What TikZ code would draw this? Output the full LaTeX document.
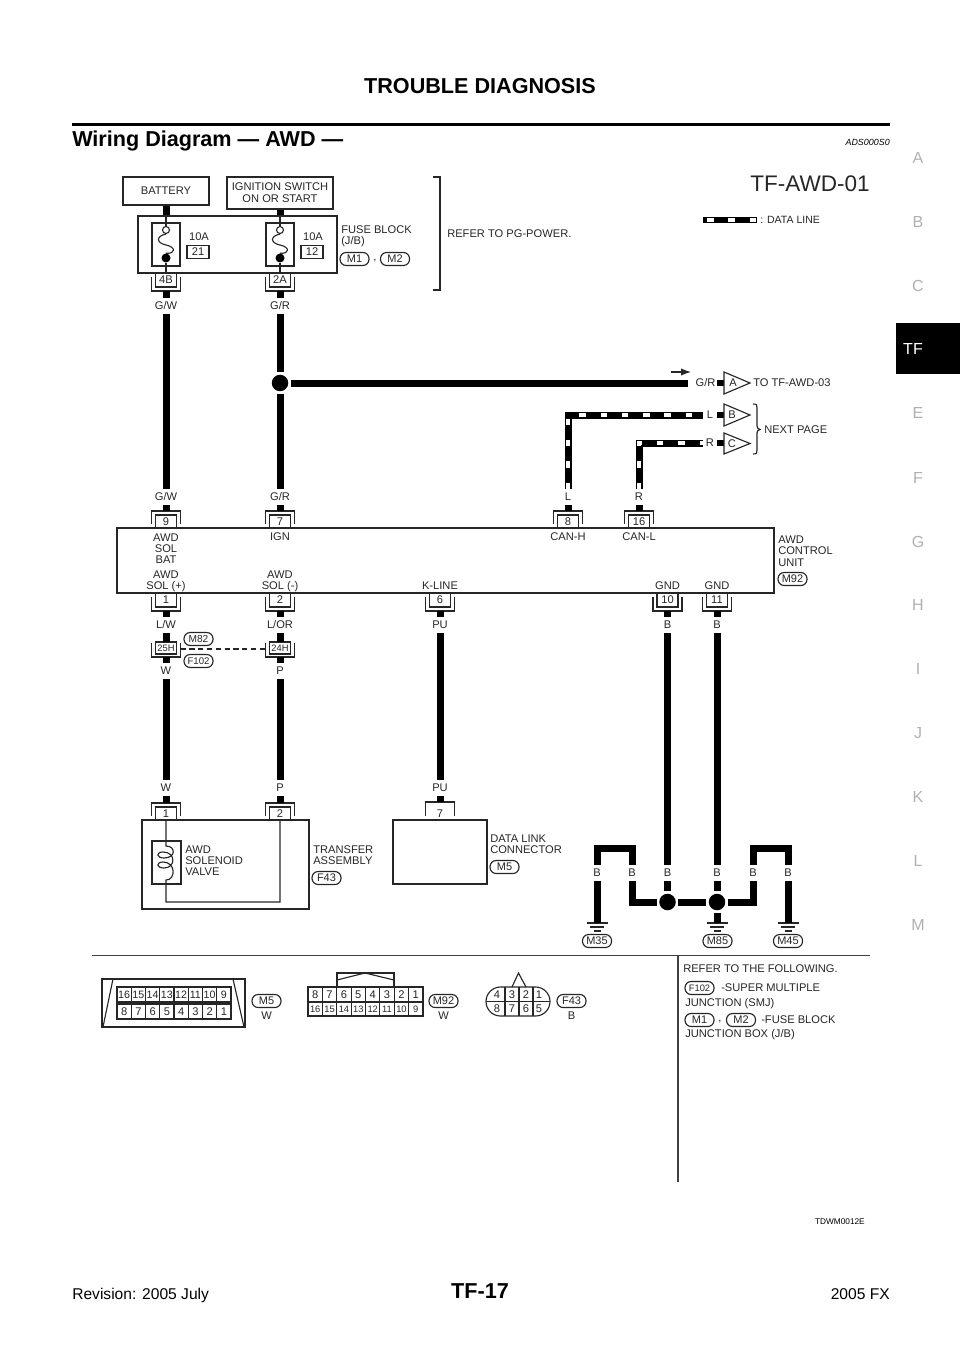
\documentclass[tikz,border=0pt]{standalone}
\usepackage{fontspec}
\setmainfont{Liberation Sans}
\usetikzlibrary{arrows.meta}
\newlength\pxu \setlength\pxu{0.75pt}
\newcommand\fs[1]{\fontsize{#1}{#1}\selectfont}
\definecolor{ink}{HTML}{262626}
\definecolor{sidegray}{HTML}{B0B0B0}
\tikzset{
  wire/.style={line width=5.25pt,black},
  thinl/.style={line width=0.85pt,ink},
  boxn/.style={draw=ink,line width=0.85pt,inner sep=0pt,align=center,font=\fs{8.35pt},text=ink},
  txt/.style={inner sep=0pt,font=\fs{8.35pt},text=ink},
  mline/.style={inner sep=0pt,font=\fs{8.35pt},text=ink,align=left,anchor=west},
  cline/.style={inner sep=0pt,font=\fs{8.35pt},text=ink,align=center},
  lab/.style={inner sep=0pt,font=\fs{8.35pt},text=ink,minimum height=15\pxu,text height=5.9pt,text depth=0pt},
  num/.style={inner sep=0pt,font=\fs{8.35pt},text=ink,text height=5.9pt,text depth=0pt},
  oval/.style={draw=ink,line width=0.85pt,rounded corners=4.6pt,inner sep=0pt,minimum width=29\pxu,minimum height=13\pxu,font=\fs{8.25pt},text=ink,text height=5.9pt,text depth=0pt},
  dot/.style={circle,fill=black,inner sep=0pt,minimum size=16.5\pxu,outer sep=2.5\pxu},
  whitedash/.style={line width=3.7pt,white,dash pattern=on 4.875pt off 11.1pt},
  side/.style={inner sep=0pt,font=\fs{12pt},text=sidegray},
}
\newcommand\pintop[4]{\begin{scope}[shift={(#2,#3)}]
  \draw[thinl] (-14.5,-4) -- (-14.5,-17) -- (14.5,-17) -- (14.5,-4);
  \draw[thinl] (-10.5,0) -- (-10.5,-13) -- (10.5,-13) -- (10.5,0);
  \node[num] (#1) at (0,-6.5) {#4};
  \coordinate (#1-out) at (0,-17);
\end{scope}}
\newcommand\pinbot[4]{\begin{scope}[shift={(#2,#3)}]
  \draw[thinl] (-14.5,4) -- (-14.5,18) -- (14.5,18) -- (14.5,4);
  \draw[thinl] (-10.5,0) -- (-10.5,14) -- (10.5,14) -- (10.5,0);
  \node[num] (#1) at (0,7) {#4};
  \coordinate (#1-out) at (0,18);
\end{scope}}
\newcommand\pinmid[3]{\begin{scope}[shift={(#2,648)}]
  \draw[thinl] (-14.5,-5) -- (-14.5,9) -- (14.5,9) -- (14.5,-5);
  \node[boxn,minimum width=21\pxu,minimum height=12\pxu,font=\fs{7pt},text height=5pt,text depth=0pt] (#1) at (0,0) {#3};
  \coordinate (#1-in) at (0,-6);
  \coordinate (#1-out) at (0,9);
  \coordinate (#1-e) at (14.5,1);
  \coordinate (#1-w) at (-14.5,1);
\end{scope}}
\newcommand\fuse[5]{\begin{scope}[shift={(#2,0)}]
  \draw[thinl] (-14,223) rectangle (14,266);
  \node[circle,draw=ink,fill=white,line width=0.85pt,inner sep=0pt,minimum size=7\pxu] (#1o) at (0,230) {};
  \node[circle,fill=black,inner sep=0pt,minimum size=9\pxu] (#1f) at (0,258) {};
  \draw[thinl] (0,216) -- (#1o.north);
  \draw[thinl] (#1o.south) .. controls (-10,236) and (-10,243) .. (0,245) .. controls (10,247) and (10,254) .. (#1f.north);
  \draw[thinl] (#1f.south) -- (0,273);
  \node[num] (#1a) at (33,237) {#3};
  \node[boxn,minimum width=22\pxu,minimum height=13\pxu,text height=5.9pt,text depth=0pt] (#1b) at (32,252) {#4};
\end{scope}}
\newcommand\gnd[2]{\coordinate (#1) at (#2,923);
  \draw[thinl,line width=1.1pt] (#2-10.5,923) -- (#2+10.5,923);
  \draw[thinl,line width=1.1pt] (#2-7,927) -- (#2+7,927);
  \draw[thinl,line width=1.1pt] (#2-3.5,931) -- (#2+3.5,931);}
\begin{document}
\begin{tikzpicture}[x=0.75pt,y=-0.75pt]
\useasboundingbox (0,0) rectangle (960,1358);
% page furniture
\node[inner sep=0pt,font=\fs{16.2pt}\bfseries] (title) at (480,86) {TROUBLE DIAGNOSIS};
\draw[line width=1.9pt] (72,124.5) -- (890,124.5);
\node[inner sep=0pt,anchor=base west,font=\fs{16.2pt}\bfseries] (sect) at (72,147) {Wiring Diagram — AWD —};
\node[inner sep=0pt,anchor=base east,font=\fs{6.7pt}\itshape] (ads) at (890,146) {ADS000S0};
\foreach \l/\y in {A/158,B/222,C/286,E/413,F/478,G/542,H/605,I/669,J/733,K/797,L/861,M/925}
  \node[side] (s\l) at (918,\y) {\l};
\fill[black] (896,323) rectangle (960,374);
\node[inner sep=0pt,font=\fs{12pt},text=white] (stf) at (913,349) {TF};
\node[inner sep=0pt,font=\fs{16.2pt}\bfseries] (pg) at (480,1291) {TF-17};
\node[inner sep=0pt,anchor=base west,font=\fs{11.7pt}] (rev) at (72,1299) {Revision: 2005 July};
\node[inner sep=0pt,anchor=base east,font=\fs{11.7pt}] (fx) at (890,1299) {2005 FX};
\node[inner sep=0pt,anchor=base east,font=\fs{6.2pt}] (tdw) at (865,1224) {TDWM0012E};
% title + legend
\node[inner sep=0pt,font=\fs{16.9pt},text=ink] (awd) at (810,184) {TF-AWD-01};
\coordinate (lg1) at (703,220); \coordinate (lg2) at (757,220);
\draw[line width=4.6pt,black] (lg1) -- (lg2);
\draw[line width=3.2pt,white,dash pattern=on 4.875pt off 11.1pt,dash phase=12.98pt] (lg1) -- (lg2);
\node[txt,anchor=west,font=\fs{7.9pt}] (lgt) at (760,220) {: DATA LINE};
% top boxes
\node[boxn,minimum width=86\pxu,minimum height=28\pxu] (bat) at (166,191) {BATTERY};
\node[boxn,minimum width=106\pxu,minimum height=32\pxu] (ign) at (280,193) {IGNITION SWITCH\\[0.8pt]ON OR START};
\node[boxn,minimum width=199\pxu,minimum height=57\pxu] (fb) at (237.5,244.5) {};
\draw[wire] (bat.south) -- (bat.south |- fb.north);
\draw[wire] (ign.south) -- (ign.south |- fb.north);
\fuse{fa}{166}{10A}{21}{}
\fuse{fc}{280}{10A}{12}{}
\node[mline] (fbt) at (341,236.5) {FUSE BLOCK\\[0.3pt](J/B)};
\node[oval] (ovM1) at (354.5,259) {M1};
\node[txt] (cm1) at (375,261) {,};
\node[oval] (ovM2) at (395,259) {M2};
\draw[thinl] (433,177) -- (440,177) -- (440,290) -- (433,290);
\node[txt,anchor=west] (refpg) at (447,234) {REFER TO PG-POWER.};
\pinbot{c4B}{166}{273}{4B}
\pinbot{c2A}{280}{273}{2A}
\node[lab] (gw1) at (166,306) {G/W};
\node[lab] (gr1) at (280,306) {G/R};
\node[lab] (gw2) at (166,497) {G/W};
\node[lab] (gr2) at (280,497) {G/R};
\pintop{c9}{166}{528}{9}
\pintop{c7}{280}{528}{7}
\pintop{c8}{568}{528}{8}
\pintop{c16}{639}{528}{16}
\node[dot] (j0) at (280,383) {};
\draw[wire] (c4B-out) -- (gw1.north);
\draw[wire] (gw1.south) -- (gw2.north);
\draw[wire] (gw2.south) -- (c9-out);
\draw[wire] (c2A-out) -- (gr1.north);
\draw[wire] (gr1.south) -- (j0.north);
\draw[wire] (j0.south) -- (gr2.north);
\draw[wire] (gr2.south) -- (c7-out);
% G/R branch
\node[lab,minimum width=35\pxu] (gr3) at (705.5,383) {G/R};
\coordinate (gr3s) at (717,383);
\coordinate (trAw) at (724,383);
\draw[wire] (j0.east) -- (gr3.west);
\draw[wire,line width=4.6pt] (gr3s) -- (trAw);
\draw[thinl,fill=white] (724,372) -- (750,383) -- (724,394) -- cycle;
\node[num] (trA) at (733,383) {A};
\coordinate (ar1) at (671,372); \coordinate (ar2) at (691,372);
\draw[thinl,-{Latex[length=7.5pt,width=5.5pt]}] (ar1) -- (ar2);
\node[txt,anchor=west] (toA) at (753,383) {TO TF-AWD-03};
% data lines
\node[lab] (lL1) at (568,497) {L};
\node[lab] (lR1) at (639,497) {R};
\coordinate (cL) at (568,415); \coordinate (cR) at (639,443);
\coordinate (eL) at (703,415); \coordinate (eR) at (703,443);
\coordinate (bL) at (568,489); \coordinate (bR) at (639,489);
\draw[wire] (bL) -- (cL) -- (eL);
\draw[whitedash] (bL) -- (cL) -- (eL);
\draw[wire] (bR) -- (cR) -- (eR);
\draw[whitedash] (bR) -- (cR) -- (eR);
\draw[wire] (lL1.south) -- (c8-out);
\draw[wire] (lR1.south) -- (c16-out);
\node[num] (lL2) at (710,415) {L};
\node[num] (lR2) at (710,443) {R};
\coordinate (sLa) at (717,415); \coordinate (sLb) at (724,415);
\coordinate (sRa) at (717,443); \coordinate (sRb) at (724,443);
\draw[wire,line width=4.6pt] (sLa) -- (sLb);
\draw[wire,line width=4.6pt] (sRa) -- (sRb);
\draw[thinl,fill=white] (724,404) -- (750,415) -- (724,426) -- cycle;
\draw[thinl,fill=white] (724,433) -- (750,443.5) -- (724,454) -- cycle;
\node[num] (trB) at (732,415) {B};
\node[num] (trC) at (732,443.5) {C};
\draw[thinl] (753,404) .. controls (757,404) and (757,405) .. (757,408) -- (757,426) .. controls (757,428) and (758,429) .. (760,429.5) .. controls (758,430) and (757,431) .. (757,433) -- (757,450) .. controls (757,453) and (757,454) .. (753,454);
\node[txt,anchor=west] (nxt) at (764,430) {NEXT PAGE};
% control unit
\node[boxn,minimum width=657\pxu,minimum height=65\pxu] (cu) at (445.5,560.5) {};
\node[cline] (tAB) at (166,548.5) {AWD\\[0.1pt]SOL\\[0.1pt]BAT};
\node[num] (tIG) at (280,537) {IGN};
\node[num] (tCH) at (568,537) {CAN-H};
\node[num] (tCL) at (639,537) {CAN-L};
\node[cline] (tSP) at (166,581) {AWD\\[0.1pt]SOL (+)};
\node[cline] (tSM) at (280,581) {AWD\\[0.1pt]SOL (-)};
\node[num] (tKL) at (440,586) {K-LINE};
\node[num] (tG1) at (667.5,586) {GND};
\node[num] (tG2) at (717,586) {GND};
\node[mline] (tCU) at (778,551) {AWD\\[0.1pt]CONTROL\\[0.1pt]UNIT};
\node[oval] (ovM92) at (792.5,579) {M92};
\pinbot{c1}{166}{593}{1}
\pinbot{c2}{280}{593}{2}
\pinbot{c6}{440}{593}{6}
\pinbot{c10}{667.5}{593}{10}
\pinbot{c11}{717}{593}{11}
\node[lab] (lw) at (166,625) {L/W};
\node[lab] (lor) at (280,625) {L/OR};
\node[lab] (pu1) at (440,625) {PU};
\node[lab] (b3) at (667.5,625) {B};
\node[lab] (b4) at (717,625) {B};
\pinmid{c25}{166}{25H}
\pinmid{c24}{280}{24H}
\draw[thinl,dash pattern=on 4pt off 2.6pt] (c25-e) -- (c24-w);
\node[oval,font=\fs{7.6pt}] (ovM82) at (198.5,639) {M82};
\node[oval,font=\fs{7.2pt}] (ovF102) at (198.5,661) {F102};
\node[lab] (w1) at (166,671) {W};
\node[lab] (p1) at (280,671) {P};
\node[lab] (w2) at (166,788) {W};
\node[lab] (p2) at (280,788) {P};
\node[lab] (pu2) at (440,788) {PU};
\draw[wire] (c1-out) -- (lw.north);
\draw[wire] (lw.south) -- (c25-in);
\draw[wire] (c25-out) -- (w1.north);
\draw[wire] (w1.south) -- (w2.north);
\draw[wire] (c2-out) -- (lor.north);
\draw[wire] (lor.south) -- (c24-in);
\draw[wire] (c24-out) -- (p1.north);
\draw[wire] (p1.south) -- (p2.north);
\draw[wire] (c6-out) -- (pu1.north);
\draw[wire] (pu1.south) -- (pu2.north);
% transfer assembly
\node[boxn,minimum width=167\pxu,minimum height=89\pxu] (ta) at (225.5,864.5) {};
\pintop{c1b}{166}{820}{1}
\pintop{c2b}{280}{820}{2}
\node[boxn,minimum width=29\pxu,minimum height=43\pxu] (sol) at (166.5,862.5) {};
\coordinate (co1) at (166,846); \coordinate (co2) at (166,880);
\coordinate (tb1) at (166,820); \coordinate (tb2) at (280,820); \coordinate (tb3) at (166,902); \coordinate (tb4) at (280,902);
\draw[thinl] (tb1) -- (co1) .. controls (176,846) and (176,858) .. (164,858) .. controls (156,858) and (156,852) .. (163,852) .. controls (176,852) and (176,868) .. (164,868) .. controls (156,868) and (156,862) .. (163,862) .. controls (176,862) and (176,880) .. (co2) -- (tb3) -- (tb4) -- (tb2);
\node[mline] (tAS) at (185,860.5) {AWD\\[0.1pt]SOLENOID\\[0.1pt]VALVE};
\node[mline] (tTA) at (313,855) {TRANSFER\\[0.1pt]ASSEMBLY};
\node[oval] (ovF43) at (326.5,878) {F43};
\draw[wire] (w2.south) -- (c1b-out);
\draw[wire] (p2.south) -- (c2b-out);
% data link
\node[boxn,minimum width=94\pxu,minimum height=64\pxu] (dl) at (440,852) {};
\draw[thinl] (425.5,816) -- (425.5,802) -- (454.5,802) -- (454.5,816);
\coordinate (c7b-out) at (440,802);
\node[num] (c7b) at (440,813.5) {7};
\draw[wire] (pu2.south) -- (c7b-out);
\node[mline] (tDL) at (490,844) {DATA LINK\\[0.1pt]CONNECTOR};
\node[oval] (ovM5) at (504.5,867) {M5};
% grounds
\node[dot] (j1) at (667.5,902) {};
\node[dot] (j2) at (717,902) {};
\node[lab] (ba) at (597,873) {B};
\node[lab] (bb) at (632,873) {B};
\node[lab] (bc) at (667.5,873) {B};
\node[lab] (bd) at (717,873) {B};
\node[lab] (be) at (753,873) {B};
\node[lab] (bf) at (788,873) {B};
\gnd{g1}{597}
\gnd{g2}{717}
\gnd{g3}{788}
\coordinate (k1) at (597,848); \coordinate (k2) at (632,848); \coordinate (k3) at (632,902);
\coordinate (k4) at (753,902); \coordinate (k5) at (753,848); \coordinate (k6) at (788,848);
\draw[wire] (c10-out) -- (b3.north);
\draw[wire] (c11-out) -- (b4.north);
\draw[wire] (b3.south) -- (bc.north);
\draw[wire] (b4.south) -- (bd.north);
\draw[wire] (bc.south) -- (j1.north);
\draw[wire] (bd.south) -- (j2.north);
\draw[wire] (ba.north) -- (k1) -- (k2) -- (bb.north);
\draw[wire] (bb.south) -- (k3) -- (j1.west);
\draw[wire] (j1.east) -- (j2.west);
\draw[wire] (j2.east) -- (k4) -- (be.south);
\draw[wire] (be.north) -- (k5) -- (k6) -- (bf.north);
\draw[wire] (ba.south) -- (g1);
\draw[wire] (j2.south) -- (g2);
\draw[wire] (bf.south) -- (g3);
\node[oval] (ovM35) at (597,941) {M35};
\node[oval] (ovM85) at (717.5,941) {M85};
\node[oval] (ovM45) at (788,941) {M45};
% separators
\draw[line width=1pt,black!75] (92,955.5) -- (870,955.5);
\draw[line width=1pt,black!75] (678,955.5) -- (678,1182);
% M5 connector
\draw[thinl] (102,979) rectangle (245,1027);
\draw[thinl] (113,979) -- (103,1027);
\draw[thinl] (233,979) -- (244,1027);
\draw[thinl] (117,987) rectangle (231,1002);
\draw[thinl] (117,1004) rectangle (231,1019);
\foreach \c in {1,...,7} {\draw[thinl] ({117+14.25*\c},987) -- ({117+14.25*\c},1002); \draw[thinl] ({117+14.25*\c},1004) -- ({117+14.25*\c},1019);}
\foreach \t [count=\c] in {16,15,14,13,12,11,10,9} \node[num,font=\fs{8pt}] (ma\c) at ({117+14.25*(\c-0.5)},994.5) {\t};
\foreach \t [count=\c] in {8,7,6,5,4,3,2,1} \node[num] (mb\c) at ({117+14.25*(\c-0.5)},1011.5) {\t};
\node[oval] (ovM5b) at (266.5,1001) {M5};
\node[num] (m5w) at (266.5,1016) {W};
% M92 connector
\draw[thinl] (337,987) -- (337,973) -- (394,973) -- (394,987);
\draw[thinl] (337,980) -- (365,973) -- (394,980);
\draw[thinl] (308,987) rectangle (423,1016);
\draw[thinl] (308,1002) -- (423,1002);
\foreach \c in {1,...,7} \draw[thinl] ({308+14.375*\c},987) -- ({308+14.375*\c},1016);
\foreach \t [count=\c] in {8,7,6,5,4,3,2,1} \node[num] (na\c) at ({308+14.375*(\c-0.5)},994.5) {\t};
\foreach \t [count=\c] in {16,15,14,13,12,11,10,9} \node[num,font=\fs{7pt}] (nb\c) at ({308+14.375*(\c-0.5)},1009) {\t};
\node[oval] (ovM92b) at (443.5,1001) {M92};
\node[num] (m92w) at (443.5,1016) {W};
% F43 connector
\draw[thinl] (512,987) -- (518.5,973) -- (526,987);
\draw[thinl] (535.5,987) .. controls (543.5,987) and (550,993.5) .. (550,1001.5) .. controls (550,1009.5) and (543.5,1016) .. (535.5,1016) -- (500.5,1016) .. controls (492.5,1016) and (486,1009.5) .. (486,1001.5) .. controls (486,993.5) and (492.5,987) .. (500.5,987) -- cycle;
\draw[thinl] (486,1001.5) -- (550,1001.5);
\foreach \x in {505,519,533} \draw[thinl] (\x,987) -- (\x,1016);
\foreach \t/\x in {4/497,3/512,2/526,1/539} \node[num] (fa\t) at (\x,994.5) {\t};
\foreach \t/\x in {8/497,7/512,6/526,5/539} \node[num] (fb\t) at (\x,1009) {\t};
\node[oval] (ovF43b) at (571.5,1001) {F43};
\node[num] (f43b) at (571.5,1016) {B};
% note
\node[txt,anchor=west] (n1) at (683,969) {REFER TO THE FOLLOWING.};
\node[oval,font=\fs{7pt}] (ovF102b) at (699.5,988) {F102};
\node[txt,anchor=west] (n2) at (721,988) {-SUPER MULTIPLE};
\node[txt,anchor=west] (n3) at (685,1003.5) {JUNCTION (SMJ)};
\node[oval] (ovM1b) at (699.5,1020) {M1};
\node[txt] (n4) at (720,1022) {,};
\node[oval] (ovM2b) at (741,1020) {M2};
\node[txt,anchor=west] (n5) at (761,1020) {-FUSE BLOCK};
\node[txt,anchor=west] (n6) at (685,1035) {JUNCTION BOX (J/B)};
\end{tikzpicture}
\end{document}
